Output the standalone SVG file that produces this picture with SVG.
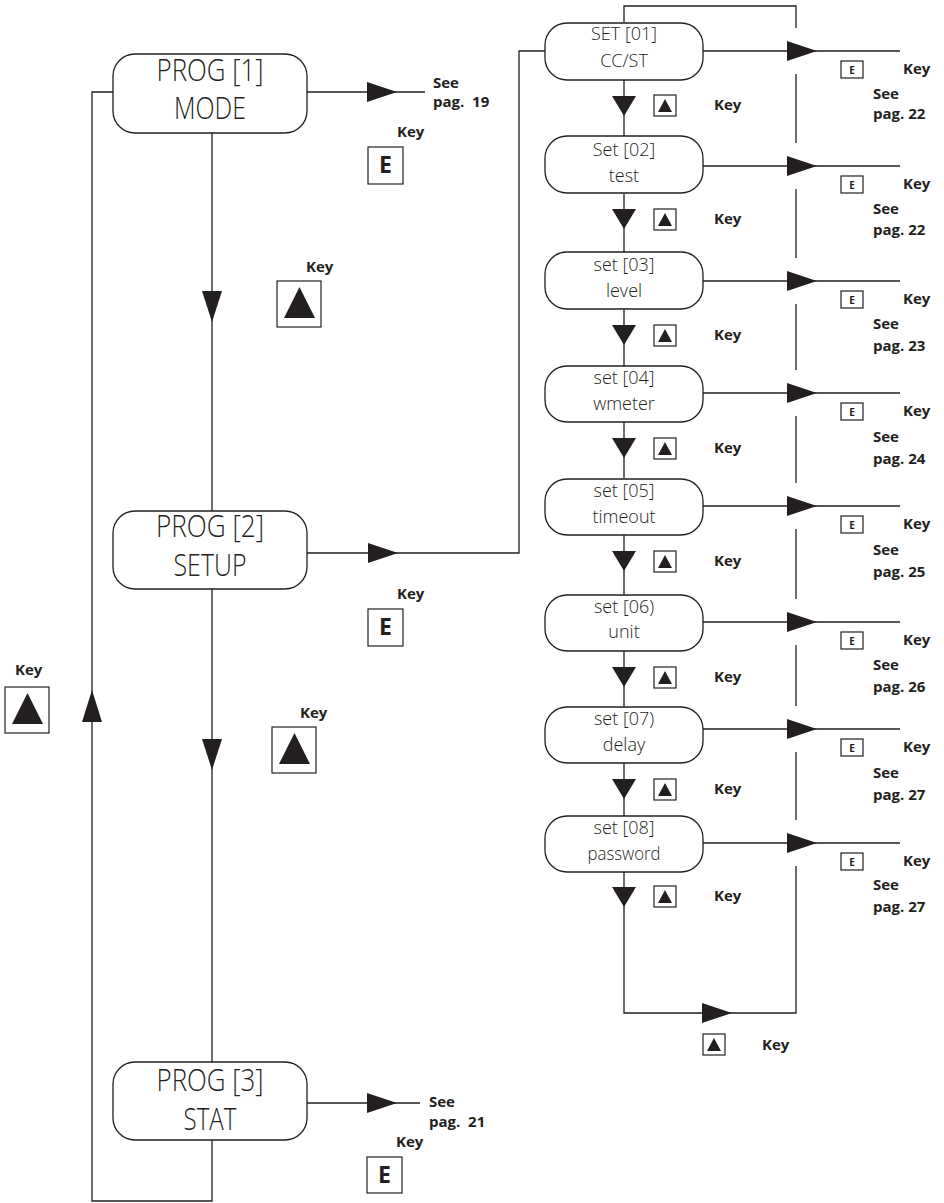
<svg xmlns="http://www.w3.org/2000/svg" width="944" height="1203" viewBox="0 0 944 1203">
<style>
.ln{fill:none;stroke:#231f20;stroke-width:1.3}
.bx{fill:#fff;stroke:#231f20;stroke-width:1.3}
.kb{fill:#fff;stroke:#231f20;stroke-width:1.2}
.ah{fill:#231f20}
.big{font-family:"Open Sans","Liberation Sans",sans-serif;font-size:31px;font-weight:300;fill:#231f20;text-anchor:middle}
.sm{font-family:"Open Sans","Liberation Sans",sans-serif;font-size:18px;font-weight:300;fill:#231f20;text-anchor:middle}
.lb{font-family:"Open Sans","Liberation Sans",sans-serif;font-size:15px;font-weight:bold;fill:#231f20;white-space:pre}
.eb{font-family:"Open Sans","Liberation Sans",sans-serif;font-size:23px;font-weight:bold;fill:#231f20;text-anchor:middle}
.es{font-family:"Open Sans","Liberation Sans",sans-serif;font-size:10px;font-weight:bold;fill:#231f20;text-anchor:middle}
</style>
<defs>
<path id="arrR" class="ah" d="M0,-10 L30,0 L0,10 Z"/>
<path id="arrDs" class="ah" d="M-12,0 L12,0 L0,20 Z"/>
<path id="arrDb" class="ah" d="M-10,0 L10,0 L0,31 Z"/>
<path id="arrUb" class="ah" d="M-10,0 L10,0 L0,-32 Z"/>
<g id="keyBig"><rect class="kb" x="0" y="0" width="44" height="46"/><path class="ah" d="M7,37 L22.5,6 L38,37 Z"/></g>
<g id="keySm"><rect class="kb" x="0" y="0" width="22" height="21"/><path class="ah" d="M4,17 L11,4 L18,17 Z"/></g>
</defs>

<g id="connectors">
<path class="ln" d="M113,92 H92 V1201 H212 V1140"/>
<use href="#arrUb" x="92" y="722"/>
<path class="ln" d="M212,133 V511 M212,589 V1062"/>
<use href="#arrDb" x="212" y="291"/>
<use href="#arrDb" x="212" y="739"/>
<path class="ln" d="M307,92 H425"/>
<use href="#arrR" x="367" y="92"/>
<path class="ln" d="M307,553 H519 V51 H545"/>
<use href="#arrR" x="368" y="553"/>
<path class="ln" d="M307,1103 H420"/>
<use href="#arrR" x="367" y="1103"/>
<path class="ln" d="M624,23 V6 H796 V28"/>
<path class="ln" d="M624,80 V136 M624,193 V252 M624,309 V366 M624,422 V479 M624,535 V595 M624,651 V707 M624,763 V816 M624,872 V1013 H796 V866"/>
<path class="ln" d="M796,74 V143 M796,189 V258 M796,304 V370 M796,416 V483 M796,529 V599 M796,645 V706 M796,752 V820"/>
<path class="ln" d="M703,51 H900 M703,166 H900 M703,281 H900 M703,393 H900 M703,506 H900 M703,622 H900 M703,729 H900 M703,843 H900"/>
<use href="#arrR" x="787" y="51"/>
<use href="#arrR" x="787" y="166"/>
<use href="#arrR" x="787" y="281"/>
<use href="#arrR" x="787" y="393"/>
<use href="#arrR" x="787" y="506"/>
<use href="#arrR" x="787" y="622"/>
<use href="#arrR" x="787" y="729"/>
<use href="#arrR" x="787" y="843"/>
<use href="#arrR" x="702" y="1013"/>
<use href="#arrDs" x="624" y="96"/>
<use href="#arrDs" x="624" y="209"/>
<use href="#arrDs" x="624" y="325"/>
<use href="#arrDs" x="624" y="438"/>
<use href="#arrDs" x="624" y="551"/>
<use href="#arrDs" x="624" y="667"/>
<use href="#arrDs" x="624" y="779"/>
<use href="#arrDs" x="624" y="887"/>
</g>

<g id="prog1">
<rect class="bx" x="113" y="54" width="194" height="79" rx="22"/>
<text class="big" x="210" y="81" textLength="107" lengthAdjust="spacingAndGlyphs">PROG [1]</text>
<text class="big" x="210" y="119" textLength="72" lengthAdjust="spacingAndGlyphs">MODE</text>
</g>
<g id="prog2">
<rect class="bx" x="113" y="511" width="194" height="78" rx="22"/>
<text class="big" x="210" y="537" textLength="108" lengthAdjust="spacingAndGlyphs">PROG [2]</text>
<text class="big" x="210" y="576" textLength="73" lengthAdjust="spacingAndGlyphs">SETUP</text>
</g>
<g id="prog3">
<rect class="bx" x="113" y="1062" width="194" height="78" rx="22"/>
<text class="big" x="210" y="1091" textLength="107" lengthAdjust="spacingAndGlyphs">PROG [3]</text>
<text class="big" x="210" y="1130" textLength="53" lengthAdjust="spacingAndGlyphs">STAT</text>
</g>

<g id="prog-labels">
<text class="lb" x="433" y="88">See</text>
<text class="lb" x="433" y="107">pag.  19</text>
<text class="lb" x="397" y="137">Key</text>
<rect class="kb" x="368" y="147" width="35" height="37"/>
<text class="eb" x="385.5" y="173">E</text>
<text class="lb" x="306" y="272">Key</text>
<use href="#keyBig" x="277" y="281"/>
<text class="lb" x="397" y="599">Key</text>
<rect class="kb" x="368" y="609" width="35" height="37"/>
<text class="eb" x="385.5" y="635">E</text>
<text class="lb" x="300" y="718">Key</text>
<use href="#keyBig" x="272" y="727"/>
<text class="lb" x="15" y="675">Key</text>
<use href="#keyBig" x="5" y="687"/>
<text class="lb" x="429" y="1107">See</text>
<text class="lb" x="429" y="1127">pag.  21</text>
<text class="lb" x="396" y="1147">Key</text>
<rect class="kb" x="367" y="1157" width="35" height="36"/>
<text class="eb" x="384.5" y="1183">E</text>
</g>

<g id="set01">
<rect class="bx" x="545" y="23" width="158" height="57" rx="22"/>
<text class="sm" x="624" y="40">SET [01]</text>
<text class="sm" x="624" y="67">CC/ST</text>
</g>
<g id="set02">
<rect class="bx" x="545" y="136" width="158" height="57" rx="22"/>
<text class="sm" x="624" y="156">Set [02]</text>
<text class="sm" x="624" y="182">test</text>
</g>
<g id="set03">
<rect class="bx" x="545" y="252" width="158" height="57" rx="22"/>
<text class="sm" x="624" y="271">set [03]</text>
<text class="sm" x="624" y="297">level</text>
</g>
<g id="set04">
<rect class="bx" x="545" y="366" width="158" height="56" rx="22"/>
<text class="sm" x="624" y="384">set [04]</text>
<text class="sm" x="624" y="410">wmeter</text>
</g>
<g id="set05">
<rect class="bx" x="545" y="479" width="158" height="56" rx="22"/>
<text class="sm" x="624" y="497">set [05]</text>
<text class="sm" x="624" y="523">timeout</text>
</g>
<g id="set06">
<rect class="bx" x="545" y="595" width="158" height="56" rx="22"/>
<text class="sm" x="624" y="613">set [06)</text>
<text class="sm" x="624" y="638">unit</text>
</g>
<g id="set07">
<rect class="bx" x="545" y="707" width="158" height="56" rx="22"/>
<text class="sm" x="624" y="725">set [07)</text>
<text class="sm" x="624" y="751">delay</text>
</g>
<g id="set08">
<rect class="bx" x="545" y="816" width="158" height="56" rx="22"/>
<text class="sm" x="624" y="834">set [08]</text>
<text class="sm" x="624" y="860" textLength="73" lengthAdjust="spacingAndGlyphs">password</text>
</g>

<g id="row-labels">
<use href="#keySm" x="654" y="95"/><text class="lb" x="714" y="110">Key</text>
<use href="#keySm" x="654" y="209"/><text class="lb" x="714" y="224">Key</text>
<use href="#keySm" x="654" y="325"/><text class="lb" x="714" y="340">Key</text>
<use href="#keySm" x="654" y="438"/><text class="lb" x="714" y="453">Key</text>
<use href="#keySm" x="654" y="551"/><text class="lb" x="714" y="566">Key</text>
<use href="#keySm" x="654" y="667"/><text class="lb" x="714" y="682">Key</text>
<use href="#keySm" x="654" y="779"/><text class="lb" x="714" y="794">Key</text>
<use href="#keySm" x="654" y="886"/><text class="lb" x="714" y="901">Key</text>
<use href="#keySm" x="703" y="1034"/><text class="lb" x="762" y="1050">Key</text>
<rect class="kb" x="841" y="61" width="22" height="17"/><text class="es" x="852" y="74">E</text>
<text class="lb" x="903" y="74">Key</text><text class="lb" x="873" y="99">See</text><text class="lb" x="873" y="119">pag. 22</text>
<rect class="kb" x="841" y="176" width="22" height="17"/><text class="es" x="852" y="189">E</text>
<text class="lb" x="903" y="189">Key</text><text class="lb" x="873" y="214">See</text><text class="lb" x="873" y="235">pag. 22</text>
<rect class="kb" x="841" y="291" width="22" height="17"/><text class="es" x="852" y="304">E</text>
<text class="lb" x="903" y="304">Key</text><text class="lb" x="873" y="329">See</text><text class="lb" x="873" y="351">pag. 23</text>
<rect class="kb" x="841" y="403" width="22" height="17"/><text class="es" x="852" y="416">E</text>
<text class="lb" x="903" y="416">Key</text><text class="lb" x="873" y="442">See</text><text class="lb" x="873" y="464">pag. 24</text>
<rect class="kb" x="841" y="516" width="22" height="17"/><text class="es" x="852" y="529">E</text>
<text class="lb" x="903" y="529">Key</text><text class="lb" x="873" y="555">See</text><text class="lb" x="873" y="577">pag. 25</text>
<rect class="kb" x="841" y="632" width="22" height="17"/><text class="es" x="852" y="645">E</text>
<text class="lb" x="903" y="645">Key</text><text class="lb" x="873" y="670">See</text><text class="lb" x="873" y="692">pag. 26</text>
<rect class="kb" x="841" y="739" width="22" height="17"/><text class="es" x="852" y="752">E</text>
<text class="lb" x="903" y="752">Key</text><text class="lb" x="873" y="778">See</text><text class="lb" x="873" y="800">pag. 27</text>
<rect class="kb" x="841" y="853" width="22" height="17"/><text class="es" x="852" y="866">E</text>
<text class="lb" x="903" y="866">Key</text><text class="lb" x="873" y="890">See</text><text class="lb" x="873" y="912">pag. 27</text>
</g>
</svg>
